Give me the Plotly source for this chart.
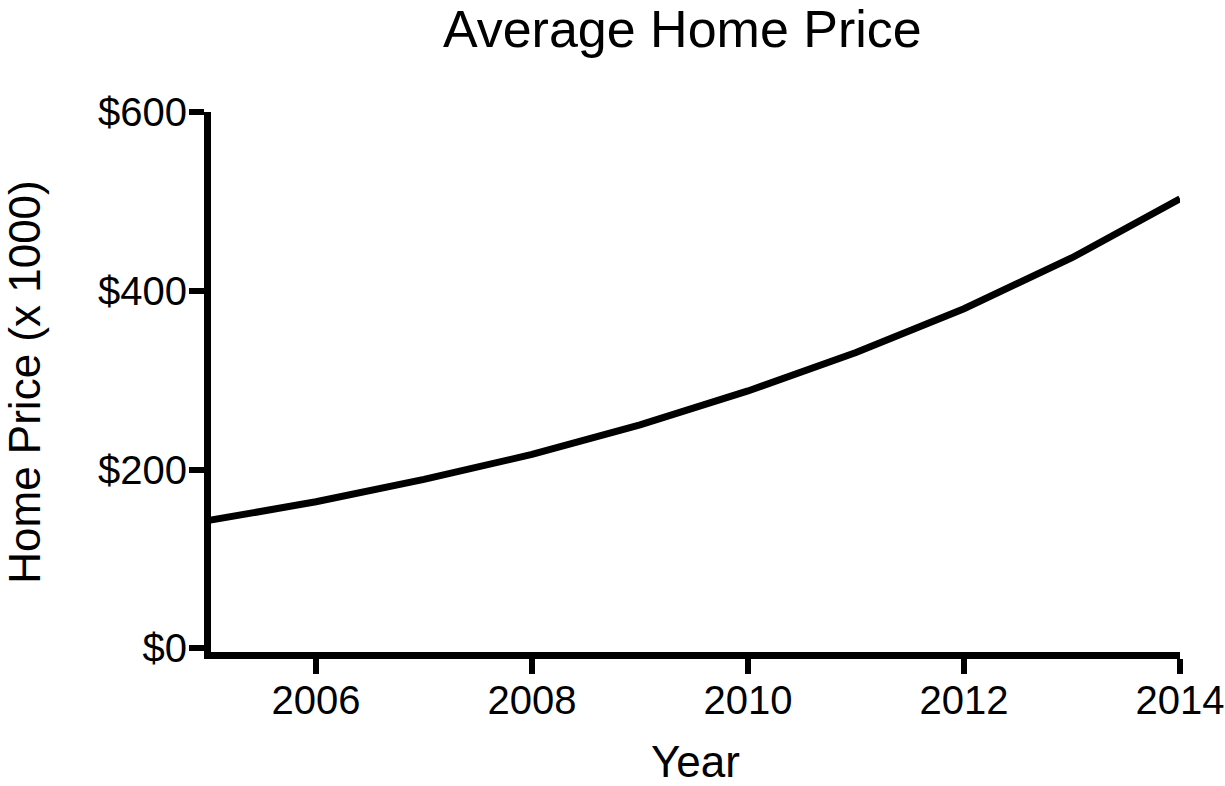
import plotly.graph_objects as go

years = [2005, 2006, 2007, 2008, 2009, 2010, 2011, 2012, 2013, 2014]
prices = [143, 164, 189, 217, 250, 288, 331, 380, 437, 503]
x_ticks = [2006, 2008, 2010, 2012, 2014]
y_ticks = [0, 200, 400, 600]
y_tick_labels = ["$0", "$200", "$400", "$600"]

FONT = "Liberation Sans, Arial, sans-serif"

fig = go.Figure()
fig.add_trace(go.Scatter(
    x=years, y=prices, mode="lines",
    line=dict(color="black", width=7),
    showlegend=False, hoverinfo="x+y",
))

fig.update_layout(
    width=1225, height=786,
    margin=dict(l=211, r=45, t=112, b=134),
    paper_bgcolor="white", plot_bgcolor="white",
    font=dict(family=FONT, color="black", size=40),
    title=dict(text="Average Home Price", x=0.557, xanchor="center",
               y=0.986, yanchor="top", font=dict(size=52, family=FONT, color="black")),
)
fig.update_xaxes(
    range=[2005.028, 2014], tickvals=x_ticks, ticks="outside", ticklen=15, tickwidth=6,
    tickcolor="black", showline=True, linewidth=7, linecolor="black",
    showgrid=False, zeroline=False, tickfont=dict(size=40), automargin=False,
    ticklabelstandoff=-8,
    title=dict(text="Year", font=dict(size=44), standoff=38),
)
fig.update_yaxes(
    range=[-4, 600], tickvals=y_ticks, ticktext=y_tick_labels, ticks="outside",
    ticklen=15, tickwidth=6, tickcolor="black", showline=True, linewidth=7,
    linecolor="black", showgrid=False, zeroline=False, tickfont=dict(size=40),
    automargin=False, ticklabelstandoff=-6,
    title=dict(text="Home Price (x 1000)", font=dict(size=44), standoff=47),
)

fig.write_html("out.html")
